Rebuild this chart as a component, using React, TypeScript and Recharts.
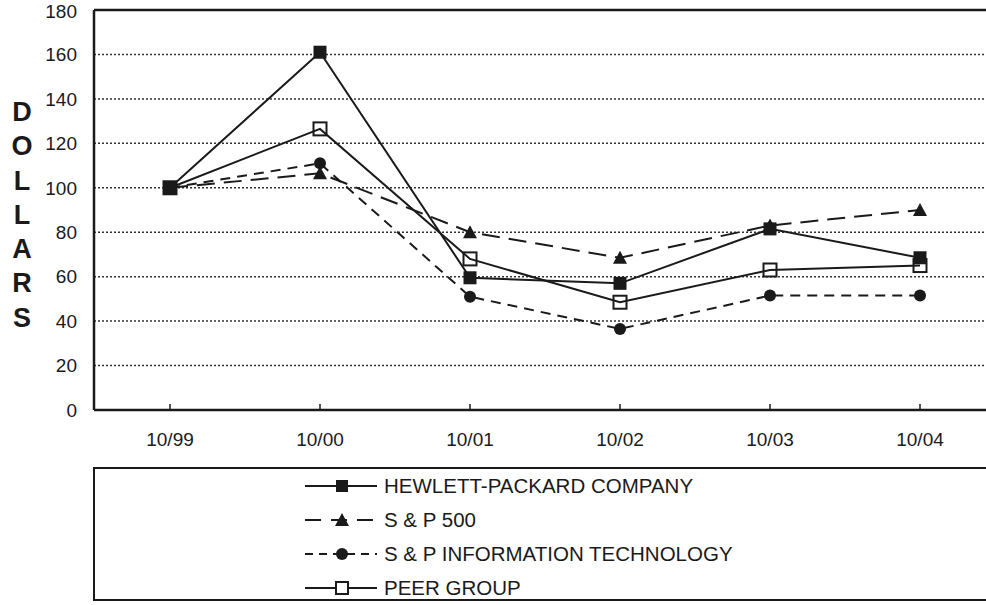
import React from 'react';
import { LineChart, Line, XAxis, YAxis, CartesianGrid, ReferenceLine } from 'recharts';

const periods = ['10/99', '10/00', '10/01', '10/02', '10/03', '10/04'];
const hpValues = [100, 161, 59.5, 57, 81.5, 68.5];
const sp500Values = [100, 106.5, 80, 68.5, 83, 90];
const spTechValues = [100, 111, 51, 36.5, 51.5, 51.5];
const peerValues = [100, 126.5, 68, 48.5, 63, 65];
const yTicks = [0, 20, 40, 60, 80, 100, 120, 140, 160, 180];
const yLabel = 'DOLLARS';

const seriesNames = {
  hp: 'HEWLETT-PACKARD COMPANY',
  sp500: 'S & P 500',
  spTech: 'S & P INFORMATION TECHNOLOGY',
  peer: 'PEER GROUP',
};

const data = periods.map((p, i) => ({
  period: p,
  hp: hpValues[i],
  sp500: sp500Values[i],
  spTech: spTechValues[i],
  peer: peerValues[i],
}));

const INK = '#1a1a1a';
const FONT = '"Liberation Sans", Arial, Helvetica, sans-serif';

const FilledSquare = (props: any) => {
  const { cx, cy, index } = props;
  if (cx == null || cy == null) return null;
  return <rect key={`hp-${index}`} x={cx - 6.5} y={cy - 6.5} width={13} height={13} fill={INK} />;
};

const OpenSquare = (props: any) => {
  const { cx, cy, index } = props;
  if (cx == null || cy == null) return null;
  return (
    <rect key={`peer-${index}`} x={cx - 6.5} y={cy - 6.5} width={13} height={13} fill="none" stroke={INK} strokeWidth={2} />
  );
};

const Triangle = (props: any) => {
  const { cx, cy, index } = props;
  if (cx == null || cy == null) return null;
  return <path key={`sp-${index}`} d={`M${cx},${cy - 7}L${cx + 7},${cy + 6}L${cx - 7},${cy + 6}Z`} fill={INK} />;
};

const Circle = (props: any) => {
  const { cx, cy, index } = props;
  if (cx == null || cy == null) return null;
  return <circle key={`it-${index}`} cx={cx} cy={cy} r={6} fill={INK} />;
};

const XTick = (props: any) => {
  const { x, y, payload } = props;
  return (
    <g>
      <line x1={x} x2={x} y1={y - 6} y2={y} stroke={INK} strokeWidth={1.5} />
      <text x={x} y={y + 36} textAnchor="middle" fontSize={19} fill={INK} fontFamily={FONT}>
        {payload.value}
      </text>
    </g>
  );
};

const legendItems = [
  { name: seriesNames.hp, dash: undefined, marker: 'fsq' },
  { name: seriesNames.sp500, dash: '16 10', marker: 'tri' },
  { name: seriesNames.spTech, dash: '8 6', marker: 'circ' },
  { name: seriesNames.peer, dash: undefined, marker: 'osq' },
];

const LegendIcon = ({ dash, marker }: { dash?: string; marker: string }) => (
  <svg width={74} height={20} style={{ display: 'block' }}>
    <line x1={0} x2={72} y1={10} y2={10} stroke={INK} strokeWidth={2} strokeDasharray={dash} />
    {marker === 'fsq' && <rect x={31} y={4} width={12} height={12} fill={INK} />}
    {marker === 'osq' && <rect x={31} y={4} width={12} height={12} fill="white" stroke={INK} strokeWidth={2} />}
    {marker === 'tri' && <path d="M37,3L44,16L30,16Z" fill={INK} />}
    {marker === 'circ' && <circle cx={37} cy={10} r={6} fill={INK} />}
  </svg>
);

export default function App() {
  return (
    <div style={{ position: 'fixed', left: 0, top: 0, width: 986, height: 605, overflow: 'hidden', background: '#fff', fontFamily: FONT }}>
      <div style={{ position: 'absolute', left: 0, top: 0 }}>
        <LineChart width={1010} height={470} data={data} margin={{ top: 10, right: 0, left: 0, bottom: 0 }}>
          <CartesianGrid vertical={false} stroke="#333" strokeWidth={1.5} strokeDasharray="2 2" />
          <XAxis
            dataKey="period"
            height={60}
            padding={{ left: 76, right: 90 }}
            tickSize={0}
            tickMargin={0}
            tick={<XTick />}
            axisLine={{ stroke: INK, strokeWidth: 2.5 }}
            interval={0}
          />
          <YAxis
            width={94}
            domain={[0, 180]}
            ticks={yTicks}
            tickSize={0}
            tickMargin={17}
            tickLine={false}
            axisLine={{ stroke: INK, strokeWidth: 2.5 }}
            tick={{ fontSize: 19, fill: INK, fontFamily: FONT }}
          />
          <ReferenceLine y={180} stroke={INK} strokeWidth={2.5} />
          <Line dataKey="spTech" name={seriesNames.spTech} stroke={INK} strokeWidth={2} strokeDasharray="10 7" dot={Circle} isAnimationActive={false} />
          <Line dataKey="sp500" name={seriesNames.sp500} stroke={INK} strokeWidth={2} strokeDasharray="18 9" dot={Triangle} isAnimationActive={false} />
          <Line dataKey="hp" name={seriesNames.hp} stroke={INK} strokeWidth={2} dot={FilledSquare} isAnimationActive={false} />
          <Line dataKey="peer" name={seriesNames.peer} stroke={INK} strokeWidth={2} dot={OpenSquare} isAnimationActive={false} />
        </LineChart>
      </div>
      <div style={{ position: 'absolute', left: 7, top: 95, width: 30, textAlign: 'center', fontWeight: 'bold', fontSize: 27, color: INK }}>
        {yLabel.split('').map((ch, i) => (
          <div key={i} style={{ height: 34.3, lineHeight: '34.3px' }}>{ch}</div>
        ))}
      </div>
      <div style={{ position: 'absolute', left: 93, top: 467, width: 920, height: 134, border: `2px solid ${INK}`, boxSizing: 'border-box' }} />
      <div style={{ position: 'absolute', left: 305, top: 469 }}>
        {legendItems.map((it) => (
          <div key={it.name} style={{ display: 'flex', alignItems: 'center', height: 34 }}>
            <LegendIcon dash={it.dash} marker={it.marker} />
            <span style={{ marginLeft: 5, fontSize: 20.5, color: INK, whiteSpace: 'nowrap' }}>{it.name}</span>
          </div>
        ))}
      </div>
    </div>
  );
}
